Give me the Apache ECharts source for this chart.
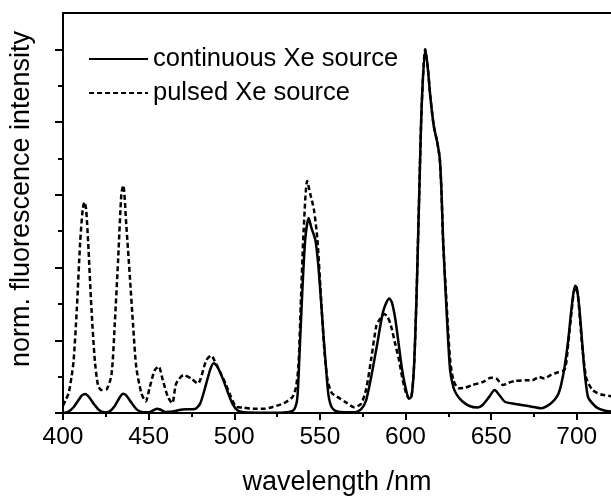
<!DOCTYPE html>
<html>
<head>
<meta charset="utf-8">
<style>html,body{margin:0;padding:0;background:#fff;}#c{width:611px;height:501px;}</style>
<script src="https://cdn.jsdelivr.net/npm/echarts@6/dist/echarts.min.js"></script>
</head>
<body>
<div id="c"></div>
<script>
const seriesNames = ['continuous Xe source', 'pulsed Xe source'];
const xTickLabels = [400, 450, 500, 550, 600, 650, 700];
const xMinorTicks = [425, 475, 525, 575, 625, 675];
const yMajorTicks = [0, 0.2, 0.4, 0.6, 0.8, 1.0];
const yMinorTicks = [0.1, 0.3, 0.5, 0.7, 0.9];

const contWl = [400,403,406,409,411,413,415,418,421,424,427,430,433,435,437,440,443,446,450,453,455,457,460,464,468,472,477,480,483,486,488,490,493,496,499,502,506,515,525,532,535,536.8,538,539.7,541.5,543.5,545,547.4,549,550.5,552,553.5,555,557,560,565,570,574,577,580,583.5,587,590.5,592,594,596,598,600,602,603.5,605,606.5,608,609.5,611.5,613,614.5,616.5,618.5,620,621,622,624,626,628,630,633,637,642,645,649,652,655,658,664,673,679,685,689,691,693,695,697,699,700,701.5,702.5,704.5,706.5,708.5,712,716,720];
const contInt = [0.0,0.003,0.015,0.035,0.048,0.052,0.045,0.025,0.008,0.002,0.004,0.018,0.042,0.053,0.048,0.028,0.01,0.003,0.002,0.008,0.012,0.009,0.003,0.004,0.008,0.01,0.011,0.025,0.07,0.12,0.137,0.128,0.098,0.06,0.025,0.007,0.002,0.001,0.001,0.003,0.01,0.04,0.15,0.33,0.48,0.536,0.51,0.475,0.41,0.32,0.22,0.13,0.05,0.015,0.004,0.002,0.002,0.01,0.035,0.1,0.19,0.28,0.315,0.305,0.26,0.19,0.12,0.07,0.04,0.045,0.13,0.33,0.6,0.85,1.0,0.95,0.87,0.79,0.745,0.7,0.61,0.47,0.28,0.12,0.07,0.05,0.033,0.02,0.015,0.022,0.045,0.063,0.048,0.031,0.025,0.018,0.013,0.027,0.05,0.08,0.13,0.2,0.29,0.35,0.345,0.29,0.234,0.117,0.045,0.03,0.014,0.007,0.004];

const pulsWl = [400,401.5,403.3,405,406.2,408.1,410,411.5,412.5,413.5,414.7,416.6,418.6,420.5,422.5,425.4,428.3,430.2,432.2,434.1,435.2,437,439,440.9,442.8,445.8,448.3,450.6,453.5,455.8,458.3,461.2,463.8,466.1,470.4,474.8,478.7,483.6,486.5,489.4,492,495,498,501,505,511,518,522,529,534,536,537.5,539,540.5,542.6,544.5,546.5,548.5,550.5,552.5,554.5,557,560,565,570,574,577,580,583,585,587.5,589.5,591.5,594,596,598,600,602,603.5,605,606.5,608,609.5,611.5,613,614.5,616.5,618.5,620,621,622,624,626,628,631,635,639,645,650,653,657,660,664,670,674,678,681,685,689,693,695,697,699,700.5,702,703.5,705.4,707,709.3,712,715,720];
const pulsInt = [0.02,0.035,0.055,0.1,0.144,0.288,0.468,0.56,0.58,0.56,0.468,0.288,0.144,0.075,0.063,0.065,0.105,0.243,0.423,0.604,0.626,0.514,0.378,0.243,0.126,0.054,0.032,0.07,0.117,0.128,0.09,0.045,0.027,0.081,0.104,0.095,0.081,0.144,0.158,0.135,0.11,0.08,0.045,0.018,0.015,0.012,0.012,0.016,0.027,0.044,0.07,0.13,0.32,0.5,0.638,0.6,0.56,0.48,0.33,0.18,0.09,0.055,0.045,0.03,0.016,0.025,0.065,0.15,0.24,0.258,0.272,0.265,0.24,0.19,0.15,0.1,0.06,0.04,0.045,0.13,0.33,0.6,0.85,1.0,0.95,0.87,0.79,0.745,0.7,0.61,0.47,0.3,0.15,0.09,0.068,0.07,0.077,0.085,0.097,0.095,0.077,0.083,0.088,0.09,0.09,0.099,0.095,0.105,0.112,0.12,0.19,0.28,0.345,0.33,0.25,0.17,0.099,0.08,0.063,0.055,0.05,0.046];

const FONT = '"Liberation Sans", Arial, Helvetica, sans-serif';
const zip = (a, b) => a.map((v, i) => [v, b[i]]);

const chart = echarts.init(document.getElementById('c'), null, {renderer: 'canvas'});
chart.setOption({
  animation: false,
  backgroundColor: '#fff',
  grid: {left: 63, right: -2, top: 13, bottom: 81, containLabel: false},
  legend: {
    orient: 'vertical', left: 83, top: 41,
    itemWidth: 59, itemHeight: 14, itemGap: 8,
    itemStyle: {opacity: 0},
    textStyle: {fontFamily: FONT, fontSize: 25.5, color: '#000', lineHeight: 25},
    data: seriesNames
  },
  xAxis: [{
    type: 'value', min: 400, max: 720, position: 'bottom',
    name: 'wavelength /nm', nameLocation: 'middle', nameGap: 56,
    nameTextStyle: {fontFamily: FONT, fontSize: 27, color: '#000'},
    axisLine: {show: true, onZero: false, lineStyle: {color: '#000', width: 2}},
    axisTick: {show: true, inside: false, length: 7, lineStyle: {color: '#000', width: 2}, customValues: xTickLabels},
    axisLabel: {show: true, margin: 12, fontFamily: FONT, fontSize: 24.5, color: '#000', customValues: xTickLabels},
    splitLine: {show: false}
  }, {
    type: 'value', min: 400, max: 720, position: 'bottom',
    axisLine: {show: false},
    axisTick: {show: true, inside: false, length: 4, lineStyle: {color: '#000', width: 2}, customValues: xMinorTicks},
    axisLabel: {show: false},
    splitLine: {show: false}
  }, {
    type: 'value', min: 400, max: 720, position: 'top',
    axisLine: {show: true, onZero: false, lineStyle: {color: '#000', width: 2}},
    axisTick: {show: false}, axisLabel: {show: false}, splitLine: {show: false}
  }],
  yAxis: [{
    type: 'value', min: 0, max: 1.1, position: 'left',
    name: 'norm. fluorescence intensity', nameLocation: 'middle', nameGap: 28,
    nameTextStyle: {fontFamily: FONT, fontSize: 27, color: '#000', padding: [0, 0, 0, 28]},
    axisLine: {show: true, onZero: false, lineStyle: {color: '#000', width: 2}},
    axisTick: {show: true, inside: false, length: 8, lineStyle: {color: '#000', width: 2}, customValues: yMajorTicks},
    axisLabel: {show: false},
    splitLine: {show: false}
  }, {
    type: 'value', min: 0, max: 1.1, position: 'left',
    axisLine: {show: false},
    axisTick: {show: true, inside: false, length: 5, lineStyle: {color: '#000', width: 2}, customValues: yMinorTicks},
    axisLabel: {show: false},
    splitLine: {show: false}
  }],
  series: [{
    name: seriesNames[0], type: 'line', xAxisIndex: 0, yAxisIndex: 0,
    data: zip(contWl, contInt), symbol: 'none', smooth: 0.25, clip: false,
    lineStyle: {color: '#000', width: 2.5, type: 'solid'}, itemStyle: {color: '#000'}
  }, {
    name: seriesNames[1], type: 'line', xAxisIndex: 0, yAxisIndex: 0,
    data: zip(pulsWl, pulsInt), symbol: 'none', smooth: 0.25, clip: false,
    lineStyle: {color: '#000', width: 2.5, type: [5, 3]}, itemStyle: {color: '#000'}
  }]
});
</script>
</body>
</html>
